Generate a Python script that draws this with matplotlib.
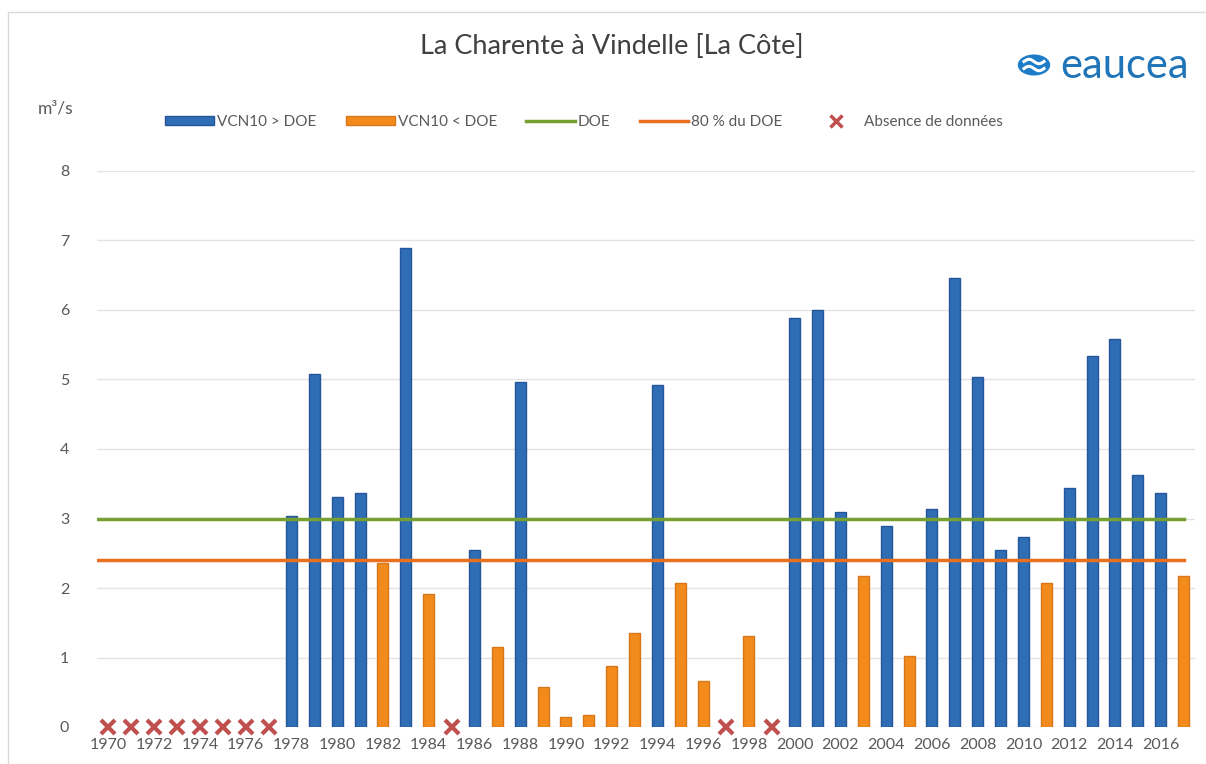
import matplotlib
matplotlib.use('Agg')
import matplotlib.pyplot as plt
from matplotlib.patches import Rectangle, Circle
from matplotlib.lines import Line2D
import numpy as np

plt.rcParams['font.family'] = ['Lato', 'DejaVu Sans']

# DATA
years = list(range(1970, 2018))
vcn10 = [None, None, None, None, None, None, None, None,
         3.04, 5.08, 3.31, 3.37, 2.36, 6.89, 1.91, None,
         2.55, 1.15, 4.96, 0.58, 0.14, 0.17, 0.88, 1.35,
         4.92, 2.07, 0.66, None, 1.31, None, 5.89, 6.00,
         3.10, 2.17, 2.89, 1.02, 3.13, 6.46, 5.04, 2.55,
         2.73, 2.07, 3.44, 5.34, 5.58, 3.62, 3.37, 2.17]
doe = 3.0
doe_80 = 0.8 * doe

# COLORS
blue = '#2F6DB5'
blue_dark = '#24579A'
orange = '#F28A1C'
orange_dark = '#D8761A'
green = '#77A033'
orange_line = '#E8701E'
red = '#C0504D'
grey_txt = '#595959'

fig = plt.figure(figsize=(12.06, 7.64), dpi=100)
ax = fig.add_axes([97 / 1206, 1 - 727 / 764, (1195 - 97) / 1206, (727 - 171) / 764])

x = np.arange(len(years))

# BARS (colour split on 80 % of DOE, as in the original)
for i, v in enumerate(vcn10):
    if v is None:
        ax.plot(i, 0, marker='x', color=red, markersize=10, mew=3, clip_on=False, zorder=5)
        continue
    if v >= doe_80:
        c, e = blue, blue_dark
    else:
        c, e = orange, orange_dark
    ax.bar(i, v, width=0.48, color=c, edgecolor=e, linewidth=1, zorder=3)

# DOE LINES
ax.plot([-0.5, len(years) - 1], [doe, doe], color=green, linewidth=2.5, zorder=4)
ax.plot([-0.5, len(years) - 1], [doe_80, doe_80], color=orange_line, linewidth=2.5, zorder=4)

ax.set_xlim(-0.5, len(years) - 0.5)
ax.set_ylim(0, 8)
ax.set_yticks(np.arange(0, 9, 1))
ax.yaxis.grid(True, color='#E3E3E3', linewidth=1)
ax.set_axisbelow(True)

ax.set_xticks(x[::2])
ax.set_xticklabels([str(y) for y in years[::2]])
ax.tick_params(axis='both', length=0, labelsize=11.5, labelcolor=grey_txt)
ax.tick_params(axis='y', pad=20)
ax.tick_params(axis='x', pad=8)

for s in ax.spines.values():
    s.set_visible(False)

# TITLE / UNIT
fig.text(612 / 1206, 1 - 46 / 764, 'La Charente à Vindelle [La Côte]', ha='center', va='center',
         fontsize=19.5, color='#404040')
fig.text(38 / 1206, 1 - 108 / 764, 'm³/s', ha='left', va='center', fontsize=12.5, color=grey_txt)

# LEGEND
handles = [Rectangle((0, 0), 1, 1, facecolor=blue, edgecolor=blue_dark),
           Rectangle((0, 0), 1, 1, facecolor=orange, edgecolor=orange_dark),
           Line2D([], [], color=green, linewidth=2.5),
           Line2D([], [], color=orange_line, linewidth=2.5),
           Line2D([], [], color=red, marker='x', linestyle='none', markersize=8, mew=2.5)]
labels = ['VCN10 > DOE', 'VCN10 < DOE', 'DOE', '80 % du DOE', 'Absence de données']
fig.legend(handles, labels, loc='center', bbox_to_anchor=(584 / 1206, 1 - 122 / 764), ncol=5,
           frameon=False, fontsize=11, handlelength=3.2, handleheight=0.6,
           handletextpad=0.2, columnspacing=1.9, labelcolor=grey_txt)

# LOGO
fig.patches.append(Circle((1034 / 1206, 1 - 65 / 764), 15.5 / 1206, transform=fig.transFigure,
                          color='#1C7CC7', zorder=5))
wx = np.linspace(-10, 10, 30)
for dy in (-3.5, 3.5):
    wy = dy + 2.2 * np.sin(wx / 10 * np.pi)
    fig.add_artist(Line2D((1034 + wx) / 1206, 1 - (65 + wy) / 764, color='white', linewidth=2.2,
                          zorder=6))
fig.text(1060 / 1206, 1 - 66 / 764, 'eaucea', ha='left', va='center', fontsize=30,
         color='#1F75B8')

# FRAME
fig.patches.append(Rectangle((8 / 1206, -0.01), 1.1, 1 - 12 / 764 + 0.01, transform=fig.transFigure,
                             fill=False, edgecolor='#D9D9D9', linewidth=1))

fig.savefig('out.png', dpi=100)
